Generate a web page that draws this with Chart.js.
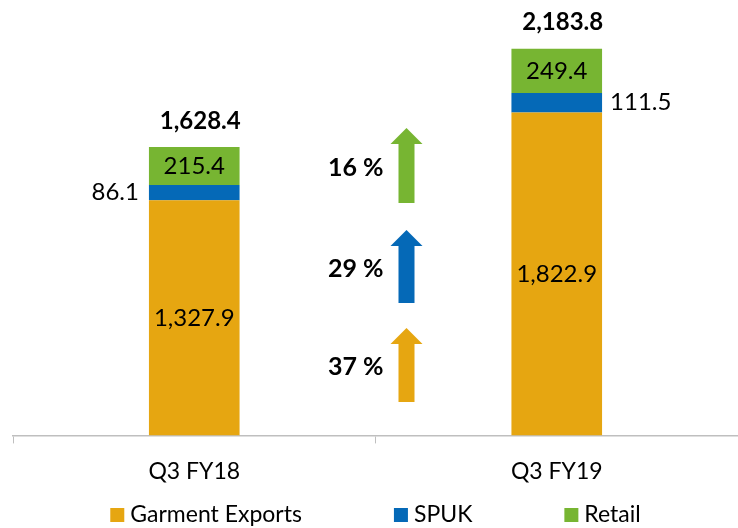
<!DOCTYPE html>
<html>
<head>
<meta charset="utf-8">
<script src="https://cdn.jsdelivr.net/npm/chart.js@4/dist/chart.umd.min.js"></script>
<style>
  html, body { margin: 0; padding: 0; background: #fff; }
  #wrap { width: 738px; height: 528px; }
</style>
</head>
<body>
<div id="wrap"><canvas id="grafico"></canvas></div>
<script>
const periodos = ["Q3 FY18", "Q3 FY19"];
const garmentExports = [1327.9, 1822.9];
const spuk = [86.1, 111.5];
const retail = [215.4, 249.4];
const totais = [1628.4, 2183.8];
const crescimento = ["37 %", "29 %", "16 %"]; // garment, spuk, retail

const cores = ["#E6A611", "#0569B7", "#77B532"];
const fonte = "Lato, 'Liberation Sans', sans-serif";

function fmt(v) {
  return v.toLocaleString("en-US", { minimumFractionDigits: 1, maximumFractionDigits: 1 });
}

// rotulos dentro/fora das barras + totais
const rotulos = {
  id: "rotulos",
  afterDatasetsDraw(chart) {
    const ctx = chart.ctx;
    ctx.save();
    ctx.textBaseline = "middle";
    chart.data.datasets.forEach((ds, i) => {
      const meta = chart.getDatasetMeta(i);
      meta.data.forEach((bar, j) => {
        const topo = Math.min(bar.y, bar.base);
        const meio = (bar.y + bar.base) / 2;
        ctx.fillStyle = "#000";
        ctx.font = "24px " + fonte;
        if (i === 1) {
          if (j === 0) {
            ctx.textAlign = "right";
            ctx.fillText(fmt(ds.data[j]), bar.x - bar.width / 2 - 10, meio);
          } else {
            ctx.textAlign = "left";
            ctx.fillText(fmt(ds.data[j]), bar.x + bar.width / 2 + 8, meio);
          }
        } else {
          ctx.textAlign = "center";
          ctx.fillText(fmt(ds.data[j]), bar.x, meio);
        }
        if (i === chart.data.datasets.length - 1) {
          ctx.font = "bold 24px " + fonte;
          ctx.textAlign = "center";
          ctx.fillText(fmt(totais[j]), bar.x + 6, topo - 26);
        }
      });
    });

    // setas de crescimento
    const b0 = chart.getDatasetMeta(0).data[0];
    const b1 = chart.getDatasetMeta(0).data[1];
    const meioX = ((b0.x + b0.width / 2) + (b1.x - b1.width / 2)) / 2;
    const ax = meioX + 31;
    const posY = [[328, 402], [230, 303], [128, 203]];
    posY.forEach((p, k) => {
      const [y1, y2] = p;
      ctx.fillStyle = cores[k];
      ctx.beginPath();
      ctx.moveTo(ax - 8, y2);
      ctx.lineTo(ax - 8, y1 + 16);
      ctx.lineTo(ax - 16, y1 + 16);
      ctx.lineTo(ax, y1);
      ctx.lineTo(ax + 16, y1 + 16);
      ctx.lineTo(ax + 8, y1 + 16);
      ctx.lineTo(ax + 8, y2);
      ctx.closePath();
      ctx.fill();
      ctx.fillStyle = "#000";
      ctx.font = "bold 25px " + fonte;
      ctx.textAlign = "right";
      ctx.fillText(crescimento[k], meioX + 8, (y1 + y2) / 2 + 2);
    });

    // legenda
    ctx.font = "23px " + fonte;
    ctx.textAlign = "left";
    const gap = 92, box = 14;
    const larg = chart.data.datasets.map(d => box + 6 + ctx.measureText(d.label).width);
    const total = larg.reduce((a, b) => a + b, 0) + gap * (larg.length - 1);
    let x = (chart.chartArea.left + chart.chartArea.right) / 2 - total / 2;
    const ly = 515;
    chart.data.datasets.forEach((d, k) => {
      ctx.fillStyle = d.backgroundColor;
      ctx.fillRect(x, ly - 7, box, box);
      ctx.fillStyle = "#000";
      ctx.fillText(d.label, x + box + 6, ly);
      x += larg[k] + gap;
    });
    ctx.restore();
  }
};

const ctx = document.getElementById("grafico");
const grafico = new Chart(ctx, {
  type: "bar",
  data: {
    labels: periodos,
    datasets: [
      { label: "Garment Exports", data: garmentExports, backgroundColor: cores[0] },
      { label: "SPUK", data: spuk, backgroundColor: cores[1] },
      { label: "Retail", data: retail, backgroundColor: cores[2] },
    ],
  },
  options: {
    responsive: true,
    maintainAspectRatio: false,
    animation: false,
    layout: { padding: { top: 20, left: 13, right: -10, bottom: 29 } },
    datasets: { bar: { categoryPercentage: 1, barPercentage: 0.25 } },
    plugins: { legend: { display: false }, tooltip: { enabled: false } },
    scales: {
      x: {
        stacked: true,
        grid: { drawOnChartArea: false, drawTicks: true, tickLength: 8, color: "#BFBFBF" },
        border: { color: "#BFBFBF", width: 1.5 },
        ticks: { color: "#000", font: { family: fonte, size: 23 }, padding: 14 },
      },
      y: { stacked: true, display: false, min: 0, max: 2346 },
    },
  },
  plugins: [rotulos],
});
</script>
</body>
</html>
